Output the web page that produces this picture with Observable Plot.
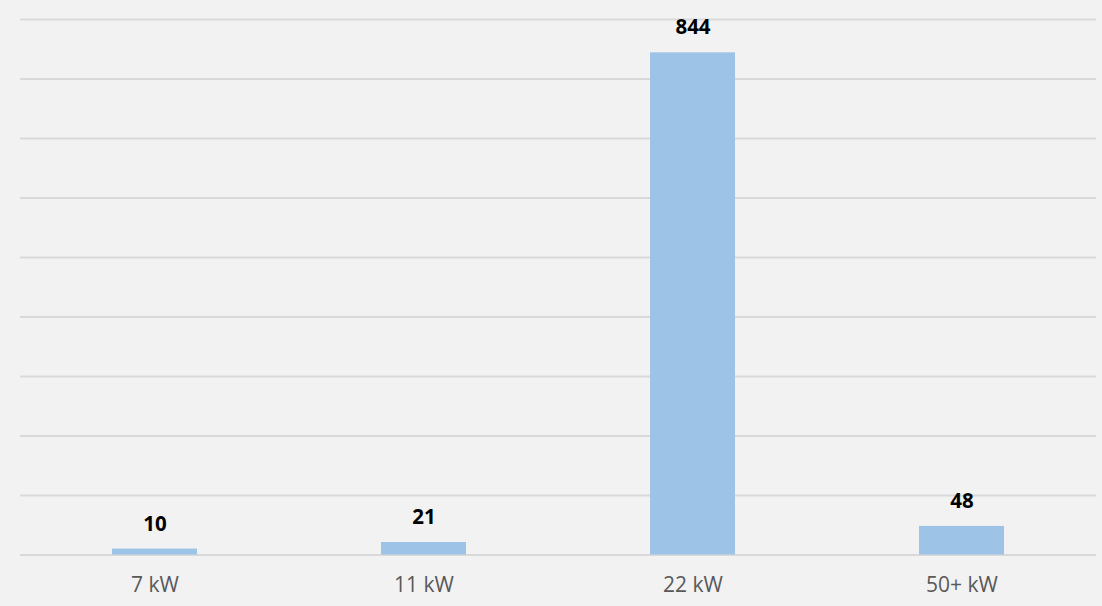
<!DOCTYPE html>
<html>
<head>
<meta charset="utf-8">
<script src="https://cdn.jsdelivr.net/npm/d3@7"></script>
<script src="https://cdn.jsdelivr.net/npm/@observablehq/plot@0.6"></script>
<style>
  html, body { margin: 0; padding: 0; background: #f2f2f2; }
  #chart svg { display: block; }
</style>
</head>
<body>
<div id="chart"></div>
<script>
const categories = ["7 kW", "11 kW", "22 kW", "50+ kW"];
const values = [10, 21, 844, 48];
const gridTicks = [0, 100, 200, 300, 400, 500, 600, 700, 800, 900];

const data = categories.map((c, i) => ({category: c, value: values[i]}));

const chart = Plot.plot({
  width: 1102,
  height: 606,
  marginLeft: 20,
  marginRight: 6,
  marginTop: 19,
  marginBottom: 51.5,
  style: {background: "#f2f2f2", fontFamily: "'Open Sans', sans-serif"},
  x: {domain: categories, padding: 0, label: null},
  y: {domain: [0, 900], axis: null},
  marks: [
    Plot.ruleY(gridTicks, {stroke: "#d9d9d9", strokeWidth: 2}),
    Plot.barY(data, {x: "category", y: "value", fill: "#9dc3e6", insetLeft: 92, insetRight: 92}),
    Plot.text(data, {x: "category", y: "value", text: d => String(d.value), dy: -25, fontSize: 20.5, fontWeight: "bold", fill: "#000"}),
    Plot.axisX({tickSize: 0, tickPadding: 22.5, fontSize: 21, color: "#595959", label: null})
  ]
});
document.getElementById("chart").appendChild(chart);
</script>
</body>
</html>
